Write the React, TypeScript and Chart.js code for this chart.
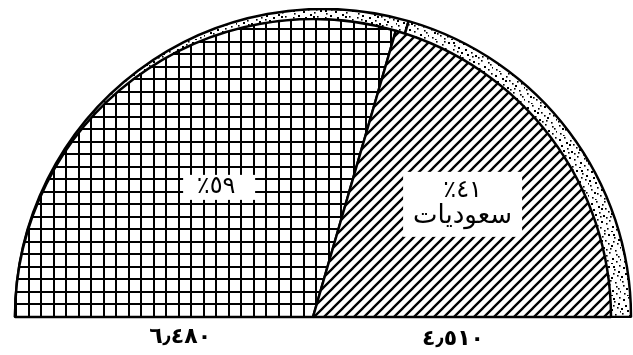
import { useEffect, useRef } from "react";
import { Chart, registerables } from "chart.js";

Chart.register(...registerables);

// ---- data ----
const categories = ["غير سعوديات", "سعوديات"];
const values = [6480, 4510];
const sliceCaptions = ["", "سعوديات"];

const AR_DIGITS = "٠١٢٣٤٥٦٧٨٩";
const toArabic = (s: string) => s.replace(/\d/g, (d) => AR_DIGITS[Number(d)]);
const formatValue = (v: number) => toArabic(v.toLocaleString("en-US").replace(/,/g, "٫"));

const FONT = "'DejaVu Sans', sans-serif";

function makeGrid(): CanvasPattern {
  const c = document.createElement("canvas");
  c.width = 25;
  c.height = 25;
  const g = c.getContext("2d")!;
  g.fillStyle = "#fff";
  g.fillRect(0, 0, 25, 25);
  g.fillStyle = "#000";
  g.fillRect(2, 0, 2, 25);
  g.fillRect(15, 0, 2, 25);
  g.fillRect(0, 10, 25, 2);
  g.fillRect(0, 23, 25, 2);
  return g.createPattern(c, "repeat")!;
}

function makeHatch(): CanvasPattern {
  const s = 10;
  const c = document.createElement("canvas");
  c.width = s;
  c.height = s;
  const g = c.getContext("2d")!;
  g.fillStyle = "#fff";
  g.fillRect(0, 0, s, s);
  g.strokeStyle = "#000";
  g.lineWidth = 2.3;
  g.beginPath();
  g.moveTo(-1, s + 1);
  g.lineTo(s + 1, -1);
  g.moveTo(-3, 3);
  g.lineTo(3, -3);
  g.moveTo(s - 3, s + 3);
  g.lineTo(s + 3, s - 3);
  g.stroke();
  return g.createPattern(c, "repeat")!;
}

const STIPPLE_DOTS = [
  [2, 3], [7, 1], [13, 4], [19, 2], [25, 5], [28, 11], [4, 9], [10, 12],
  [16, 8], [22, 13], [1, 17], [8, 19], [14, 15], [20, 20], [26, 18], [5, 24],
  [11, 27], [17, 23], [23, 26], [29, 24], [3, 29], [12, 21], [18, 28], [27, 29],
  [9, 6], [24, 9], [30, 1], [6, 14], [21, 16], [15, 30], [0, 12], [31, 15],
  [19, 11], [12, 8], [27, 22], [8, 25], [22, 31], [15, 1], [2, 21], [29, 7],
  [6, 31], [17, 17], [24, 2], [11, 16], [31, 27],
];

function makeStipple(): CanvasPattern {
  const s = 32;
  const c = document.createElement("canvas");
  c.width = s;
  c.height = s;
  const g = c.getContext("2d")!;
  g.fillStyle = "#fff";
  g.fillRect(0, 0, s, s);
  g.fillStyle = "#000";
  STIPPLE_DOTS.forEach(([x, y], i) => {
    const w = i % 3 === 0 ? 2 : 1.6;
    g.fillRect(x, y, w, w);
  });
  return g.createPattern(c, "repeat")!;
}

// label layout (fractions of radius from the pie centre)
const PCT_BOX = [
  { dx: -0.315, dy: -0.435, w: 72, h: 25 },
  { dx: 0.502, dy: -0.378, w: 119, h: 65 },
];
const VALUE_POS = [
  { dx: -0.446, dy: 20 },
  { dx: 0.47, dy: 22 },
];

const labelPlugin = {
  id: "sliceLabels",
  afterDraw(chart: any) {
    const ctx: CanvasRenderingContext2D = chart.ctx;
    const meta = chart.getDatasetMeta(0);
    const arc = meta.data[0];
    const cx = arc.x;
    const cy = arc.y;
    const r = arc.outerRadius;
    const total = values.reduce((a, b) => a + b, 0);
    ctx.save();
    ctx.direction = "rtl";
    ctx.textAlign = "center";
    ctx.textBaseline = "middle";
    values.forEach((v, i) => {
      const b = PCT_BOX[i];
      const bx = cx + b.dx * r;
      const by = cy + b.dy * r;
      ctx.fillStyle = "#fff";
      ctx.fillRect(bx - b.w / 2, by - b.h / 2, b.w, b.h);
      ctx.fillStyle = "#000";
      const pct = toArabic(String(Math.round((v / total) * 100))) + "٪";
      if (sliceCaptions[i]) {
        ctx.font = `24px ${FONT}`;
        ctx.fillText(pct, bx, by - 14);
        ctx.font = `26px ${FONT}`;
        ctx.fillText(sliceCaptions[i], bx, by + 12);
      } else {
        ctx.font = `24px ${FONT}`;
        ctx.fillText(pct, bx - 3, by - 1);
      }
      const p = VALUE_POS[i];
      ctx.font = `bold 22px ${FONT}`;
      ctx.fillText(formatValue(v), cx + p.dx * r, cy + p.dy);
    });
    ctx.restore();
  },
};

export default function App() {
  const backRef = useRef<HTMLCanvasElement>(null);
  const frontRef = useRef<HTMLCanvasElement>(null);

  useEffect(() => {
    const stipple = makeStipple();
    const grid = makeGrid();
    const hatch = makeHatch();
    const common: any = {
      responsive: false,
      maintainAspectRatio: false,
      animation: false,
      events: [],
      rotation: -90,
      circumference: 180,
      plugins: { legend: { display: false }, tooltip: { enabled: false } },
    };
    const back = new Chart(backRef.current!, {
      type: "pie",
      data: {
        labels: categories,
        datasets: [
          {
            data: values,
            backgroundColor: [stipple, stipple],
            borderColor: "#000",
            borderWidth: 2.5,
            hoverBorderWidth: 2.5,
          },
        ],
      },
      options: { ...common, radius: 308, layout: { padding: 0 } },
    });
    const front = new Chart(frontRef.current!, {
      type: "pie",
      data: {
        labels: categories,
        datasets: [
          {
            data: values,
            backgroundColor: [grid, hatch],
            borderColor: "#000",
            borderWidth: 2.5,
            hoverBorderWidth: 2.5,
          },
        ],
      },
      options: { ...common, radius: 298, layout: { padding: { top: 0, left: 0, right: 0, bottom: 37 } } },
      plugins: [labelPlugin],
    });
    return () => {
      back.destroy();
      front.destroy();
    };
  }, []);

  return (
    <div
      style={{
        position: "absolute",
        left: 0,
        top: 0,
        width: 633,
        height: 355,
        background: "#fff",
        overflow: "hidden",
      }}
    >
      <canvas ref={backRef} width={620} height={310} style={{ position: "absolute", left: 13, top: 8 }} />
      <canvas ref={frontRef} width={600} height={337} style={{ position: "absolute", left: 13, top: 18 }} />
    </div>
  );
}
